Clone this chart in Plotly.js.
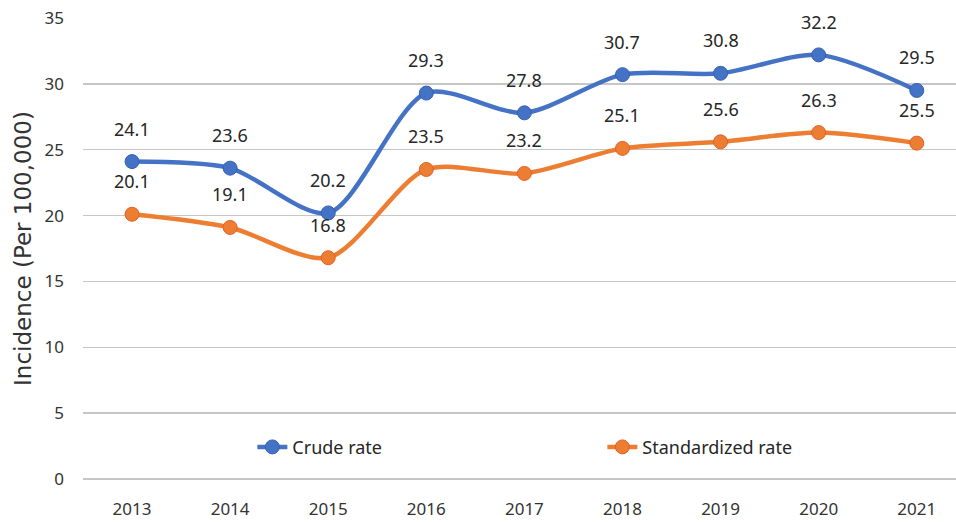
<!DOCTYPE html>
<html>
<head>
<meta charset="utf-8">
<script src="https://cdn.plot.ly/plotly-3.0.1.min.js"></script>
<style>html,body{margin:0;padding:0;background:#fff;}#chart{width:956px;height:522px;}</style>
</head>
<body>
<div id="chart"></div>
<script>
const years = [2013, 2014, 2015, 2016, 2017, 2018, 2019, 2020, 2021];
const crudeRate = [24.1, 23.6, 20.2, 29.3, 27.8, 30.7, 30.8, 32.2, 29.5];
const standardizedRate = [20.1, 19.1, 16.8, 23.5, 23.2, 25.1, 25.6, 26.3, 25.5];
const seriesNames = ['Crude rate', 'Standardized rate'];
const yTicks = [0, 5, 10, 15, 20, 25, 30, 35];

const FONT = 'Noto Sans, sans-serif';

const traces = [
  {
    x: years, y: crudeRate, name: seriesNames[0], type: 'scatter', mode: 'lines+markers',
    line: {color: '#4472C4', width: 4.5, shape: 'spline', smoothing: 0.8},
    marker: {color: '#4472C4', size: 14, line: {color: '#3560B8', width: 1}}
  },
  {
    x: years, y: standardizedRate, name: seriesNames[1], type: 'scatter', mode: 'lines+markers',
    line: {color: '#ED7D31', width: 4.5, shape: 'spline', smoothing: 0.8},
    marker: {color: '#ED7D31', size: 14, line: {color: '#E0602A', width: 1}}
  }
];

const annotations = [];
[crudeRate, standardizedRate].forEach(arr => {
  arr.forEach((v, i) => {
    annotations.push({
      x: years[i], y: v, xref: 'x', yref: 'y', text: v.toFixed(1),
      showarrow: false, yshift: 33, font: {family: FONT, size: 18, color: '#262626'}
    });
  });
});

const layout = {
  width: 956, height: 522,
  margin: {l: 83, r: 0, t: 18, b: 43, autoexpand: false},
  paper_bgcolor: '#ffffff', plot_bgcolor: '#ffffff',
  showlegend: true,
  legend: {
    orientation: 'h', x: 0.194, y: 0.069, xanchor: 'left', yanchor: 'middle',
    entrywidth: 305, entrywidthmode: 'pixels',
    font: {family: FONT, size: 18, color: '#262626'}, bgcolor: 'rgba(0,0,0,0)'
  },
  xaxis: {
    range: [2012.5, 2021.4], tickvals: years, showgrid: false, zeroline: false, showline: false,
    ticks: '', ticklabelstandoff: 18, automargin: false,
    tickfont: {family: FONT, size: 17, color: '#333333'}
  },
  yaxis: {
    range: [0, 35], tickvals: yTicks, showgrid: true, gridcolor: '#c6c6c6', gridwidth: 1.5,
    zeroline: true, zerolinecolor: '#c6c6c6', zerolinewidth: 1.5, showline: false,
    ticks: '', ticklabelstandoff: 18, automargin: false,
    tickfont: {family: FONT, size: 17, color: '#333333'},
    title: {text: 'Incidence (Per 100,000)', font: {family: 'DejaVu Sans, sans-serif', size: 23, color: '#333333'}, standoff: 6}
  },
  annotations: annotations
};

Plotly.newPlot('chart', traces, layout, {displayModeBar: false, staticPlot: true});
</script>
</body>
</html>
